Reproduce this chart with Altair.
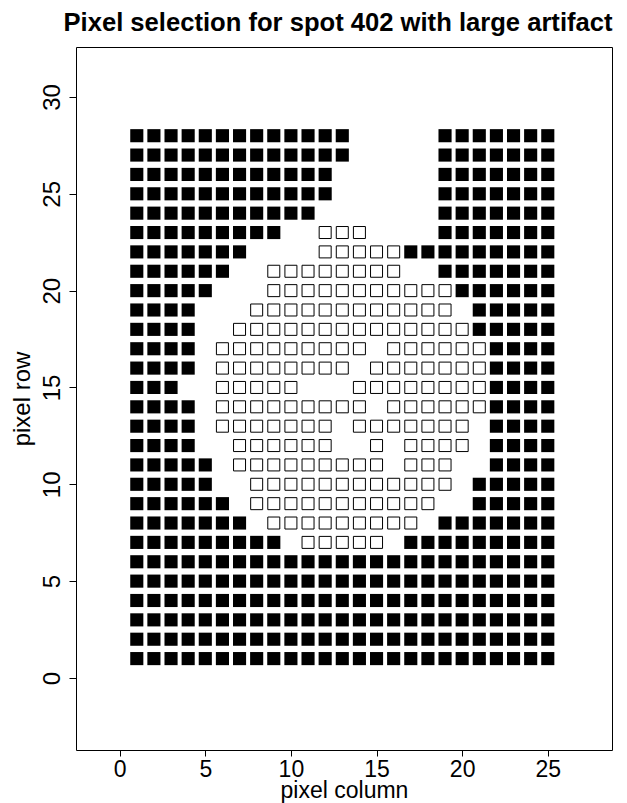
import altair as alt
import pandas as pd

# Pixel mask, one string per pixel row from row 28 (top) down to row 1 (bottom).
# '#' = selected pixel (filled square), 'o' = artifact pixel (open square), '.' = empty
row_ids = [28, 27, 26, 25, 24, 23, 22, 21, 20, 19, 18, 17, 16, 15,
           14, 13, 12, 11, 10, 9, 8, 7, 6, 5, 4, 3, 2, 1]
row_masks = [
    "#############.....#######",
    "#############.....#######",
    "############......#######",
    "############......#######",
    "###########.......#######",
    "#########..ooo....#######",
    "#######....ooooo#########",
    "######..oooooooo..#######",
    "#####...ooooooooooo######",
    "####...oooooooooooo.#####",
    "####..oooooooooooooo#####",
    "####.ooooooooo.oooooo####",
    "####.oooooooo.ooooooo####",
    "###..ooooo...oooooooo####",
    "####.ooooooooo.oooooo####",
    "####.ooooooo.ooooooo.####",
    "####..oooooo..o.oooo.####",
    "#####.ooooooooo.ooo..####",
    "#####..oooooooooooo.#####",
    "######.ooooooooooo..#####",
    "#######.ooooooooo.#######",
    "#########.ooooo.#########",
    "#########################",
    "#########################",
    "#########################",
    "#########################",
    "#########################",
    "#########################",
]
column_ids = [1, 2, 3, 4, 5, 6, 7, 8, 9, 10, 11, 12, 13, 14, 15, 16, 17,
              18, 19, 20, 21, 22, 23, 24, 25]

x_ticks = [0, 5, 10, 15, 20, 25]
y_ticks = [0, 5, 10, 15, 20, 25, 30]

records = []
for r, mask in zip(row_ids, row_masks):
    for c, ch in zip(column_ids, mask):
        if ch != ".":
            records.append({"col": c, "row": r, "kind": "sel" if ch == "#" else "art"})
df = pd.DataFrame(records)

FONT = "Liberation Sans"

x_enc = alt.X("col:Q",
              scale=alt.Scale(domain=[-2.55, 28.75], nice=False, zero=False),
              axis=alt.Axis(values=x_ticks, title="pixel column", labelPadding=2,
                            tickSize=6, labelFontSize=23, titleFontSize=23,
                            titlePadding=-2, labelFlush=False))
y_enc = alt.Y("row:Q",
              scale=alt.Scale(domain=[-3.72, 32.58], nice=False, zero=False),
              axis=alt.Axis(values=y_ticks, title="pixel row", labelAngle=270,
                            labelPadding=5, titlePadding=6, labelFlush=False))

base = alt.Chart(df)

filled = base.transform_filter(alt.datum.kind == "sel").mark_point(
    shape="square", filled=True, size=172, color="black", opacity=1
).encode(x=x_enc, y=y_enc)

opened = base.transform_filter(alt.datum.kind == "art").mark_point(
    shape="square", filled=False, size=144, stroke="black", strokeWidth=1,
    fill="white", fillOpacity=0, opacity=1
).encode(x=x_enc, y=y_enc)

chart = alt.layer(filled, opened).properties(
    width=536,
    height=703,
    padding={"left": 68, "top": 39, "right": 5, "bottom": 58},
    autosize=alt.AutoSizeParams(type="none"),
    title=alt.TitleParams(
        "Pixel selection for spot 402 with large artifact",
        font=FONT, fontSize=25.6, fontWeight="bold", color="black",
        anchor="middle", frame="group", offset=10, dx=-6,
    ),
).configure_view(
    stroke="black", strokeWidth=1
).configure_axis(
    grid=False, domain=False, tickColor="black", tickSize=7, tickWidth=1,
    labelColor="black", titleColor="black", labelFont=FONT, titleFont=FONT,
    labelFontSize=24, titleFontSize=24, titleFontWeight="normal",
)

chart.save("out.html", embed_options={"renderer": "svg", "actions": False})
